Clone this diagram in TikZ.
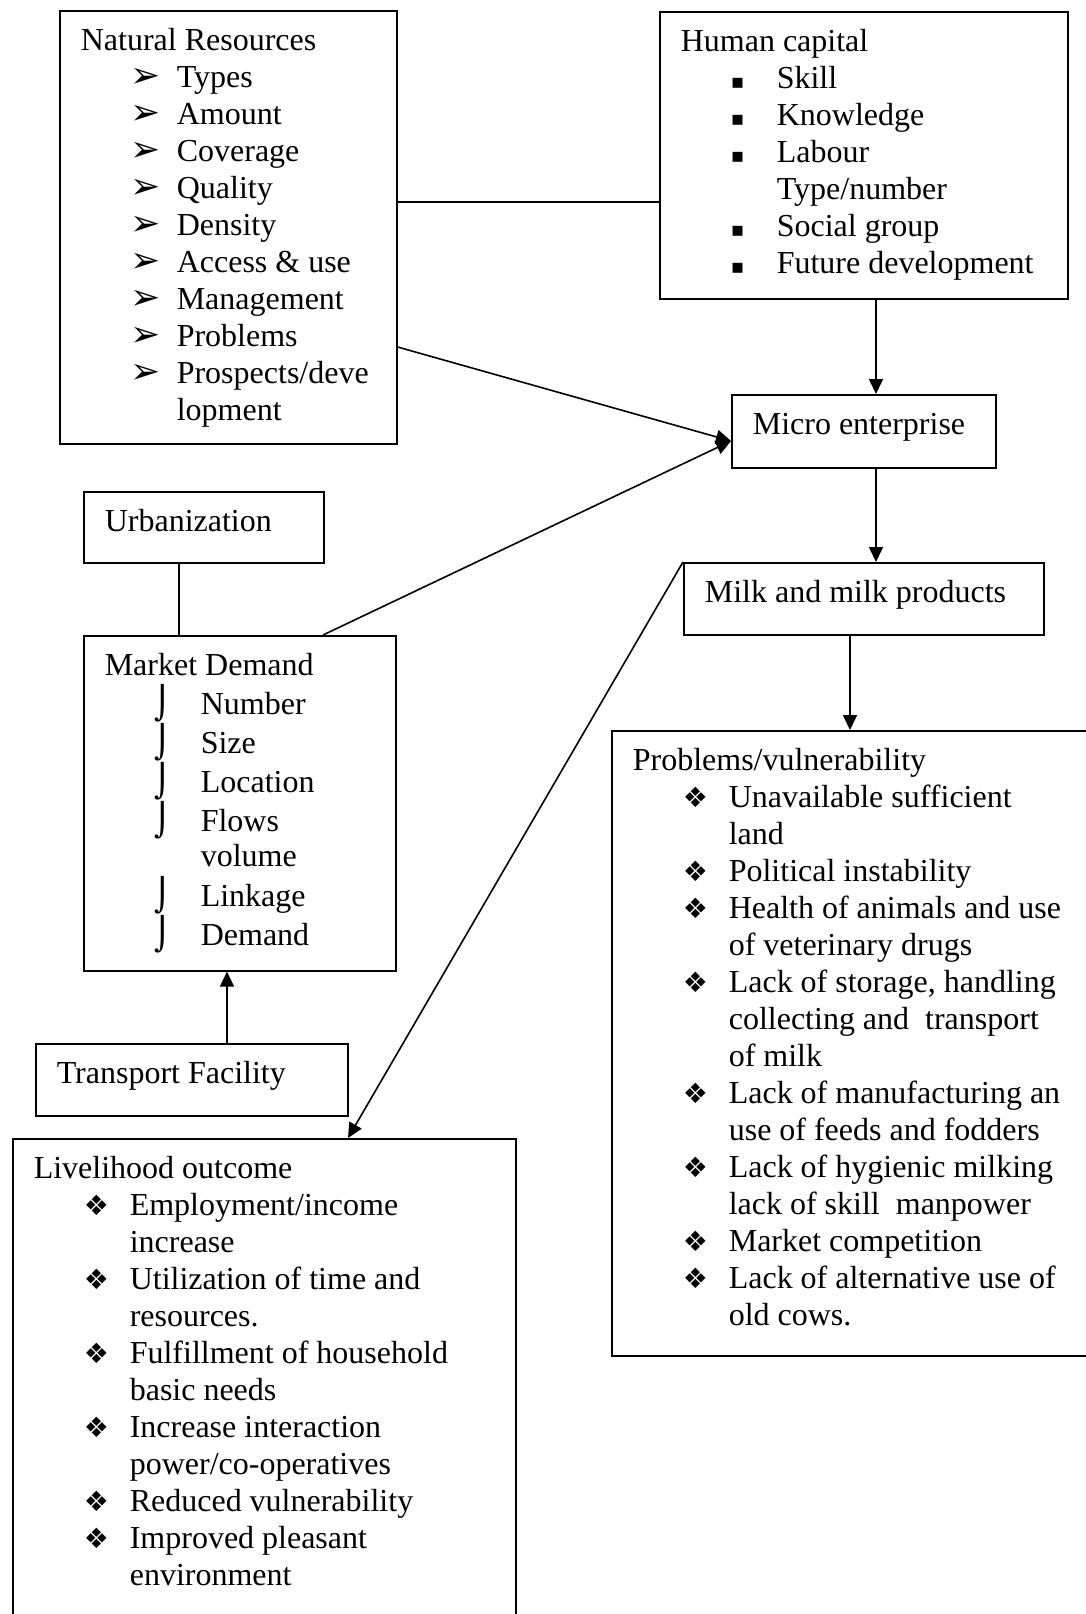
\documentclass[tikz,border=0pt]{standalone}
\usepackage{fontspec}
\setmainfont{Liberation Serif}
\newfontfamily\bulletfont{DejaVu Sans}
\usepackage{tikz}
\usetikzlibrary{arrows.meta,calc}

\newcommand{\boxtext}[3]{\parbox[c][#2][t]{#1}{\fontsize{16}{18.5}\selectfont\raggedright\vspace*{7pt}\strut#3}}
\newcommand{\itm}[2]{\hspace*{25pt}\makebox[23pt][l]{#1}#2}
\newcommand{\cnt}[1]{\hspace*{48pt}#1}
\newcommand{\arr}{\smash{\bulletfont\fontsize{18}{18}\selectfont ➢}}
\newcommand{\sqr}{{\bulletfont\fontsize{10}{10}\selectfont ▪}}
\newcommand{\dia}{\smash{\bulletfont\fontsize{14}{14}\selectfont ❖}}
\newcommand{\hok}{\smash{\bulletfont\fontsize{16}{16}\selectfont ⌡}}

\begin{document}
\begin{tikzpicture}[
  x=0.5pt, y=-0.5pt,
  box/.style={draw, line width=0.8pt, anchor=north west, inner xsep=10.5pt, inner ysep=0pt},
  arrow/.style={-{Triangle[length=7.5pt,width=7pt]}, line width=0.8pt},
  link/.style={line width=0.8pt}
]
\useasboundingbox (0,0) rectangle (1086,1614);

\node[box] (nat) at (59,10) {\boxtext{147.5pt}{216.5pt}{Natural Resources\\
  \itm{\arr}{Types}\\ \itm{\arr}{Amount}\\ \itm{\arr}{Coverage}\\ \itm{\arr}{Quality}\\
  \itm{\arr}{Density}\\ \itm{\arr}{Access \& use}\\ \itm{\arr}{Management}\\
  \itm{\arr}{Problems}\\ \itm{\arr}{Prospects/deve}\\ \cnt{lopment}}};
\node[box] (hum) at (659,11) {\boxtext{183pt}{143.5pt}{Human capital\\
  \itm{\sqr}{Skill}\\ \itm{\sqr}{Knowledge}\\ \itm{\sqr}{Labour}\\ \cnt{Type/number}\\
  \itm{\sqr}{Social group}\\ \itm{\sqr}{Future development}}};
\node[box] (micro) at (731,394) {\boxtext{111pt}{36.5pt}{Micro enterprise}};
\node[box] (milk) at (683,562) {\boxtext{159pt}{36pt}{Milk and milk products}};
\node[box] (urban) at (83,491) {\boxtext{99pt}{35.5pt}{Urbanization}};
\node[box] (market) at (83,635) {\boxtext{135pt}{167.5pt}{Market Demand\\[1pt]
  \itm{\hok}{Number}\\[1pt] \itm{\hok}{Size}\\[1pt] \itm{\hok}{Location}\\[1pt]
  \itm{\hok}{Flows}\\[-1pt] \cnt{volume}\\[1.5pt] \itm{\hok}{Linkage}\\[1pt] \itm{\hok}{Demand}}};
\node[box] (trans) at (35,1043) {\boxtext{135pt}{36pt}{Transport Facility}};
\node[box] (prob) at (611,730) {\boxtext{221pt}{312.5pt}{Problems/vulnerability\\
  \itm{\dia}{Unavailable sufficient}\\ \cnt{land}\\
  \itm{\dia}{Political instability}\\
  \itm{\dia}{Health of animals and use}\\ \cnt{of veterinary drugs}\\
  \itm{\dia}{Lack of storage, handling}\\ \cnt{collecting and\ \ transport}\\ \cnt{of milk}\\
  \itm{\dia}{Lack of manufacturing an}\\ \cnt{use of feeds and fodders}\\
  \itm{\dia}{Lack of hygienic milking}\\ \cnt{lack of skill\ \ manpower}\\
  \itm{\dia}{Market competition}\\
  \itm{\dia}{Lack of alternative use of}\\ \cnt{old cows.}}};
\node[box] (live) at (12,1138) {\boxtext{230.5pt}{243.5pt}{Livelihood outcome\\
  \itm{\dia}{Employment/income}\\ \cnt{increase}\\
  \itm{\dia}{Utilization of time and}\\ \cnt{resources.}\\
  \itm{\dia}{Fulfillment of household}\\ \cnt{basic needs}\\
  \itm{\dia}{Increase interaction}\\ \cnt{power/co-operatives}\\
  \itm{\dia}{Reduced vulnerability}\\
  \itm{\dia}{Improved pleasant}\\ \cnt{environment}}};

\draw[link] (nat.east |- 0,202) -- (hum.west |- 0,202);
\draw[arrow] (nat.east |- 0,347) -- (micro.west |- 0,441);
\draw[arrow] (market.north -| 323,0) -- (micro.west |- 0,441);
\draw[arrow] (hum.south -| 876,0) -- (micro.north -| 876,0);
\draw[arrow] (micro.south -| 876,0) -- (milk.north -| 876,0);
\draw[arrow] (milk.south -| 850,0) -- (prob.north -| 850,0);
\draw[arrow] (milk.north west) -- (live.north -| 348,0);
\draw[link] (urban.south -| 179,0) -- (market.north -| 179,0);
\draw[arrow] (trans.north -| 227,0) -- (market.south -| 227,0);
\end{tikzpicture}
\end{document}
